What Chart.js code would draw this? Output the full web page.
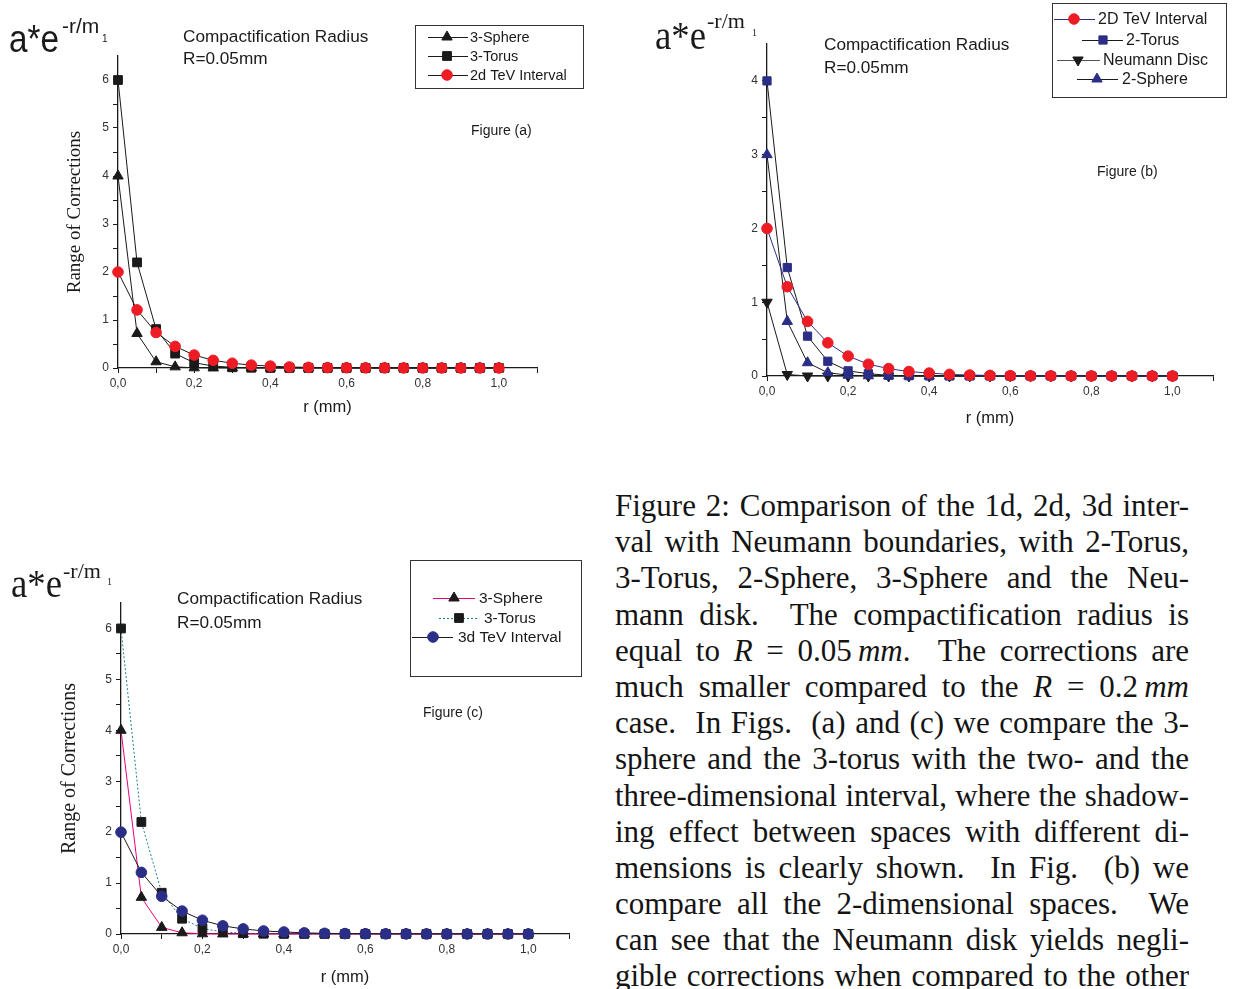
<!DOCTYPE html>
<html>
<head>
<meta charset="utf-8">
<script src="https://cdn.jsdelivr.net/npm/chart.js@4.4.1/dist/chart.umd.min.js"></script>
<style>
  body { margin: 0; background: #fff; width: 1237px; height: 989px; overflow: hidden; position: relative; }
  canvas { position: absolute; }
  #caption { position: absolute; left: 615px; top: 488px; width: 574px; font-family: "Liberation Serif", "Times New Roman", serif; color: #141414; }
  #caption div { font-size: 31px; height: 36.2px; line-height: 36.2px; text-align: justify; text-align-last: justify; overflow: visible; }
</style>
</head>
<body>
<canvas id="figA" width="615" height="440" style="left:0;top:0"></canvas>
<canvas id="figB" width="622" height="440" style="left:615px;top:0"></canvas>
<canvas id="figC" width="615" height="449" style="left:0;top:540px"></canvas>
<div id="caption">
  <div>Figure 2: Comparison of the 1d, 2d, 3d inter-</div>
  <div>val with Neumann boundaries, with 2-Torus,</div>
  <div>3-Torus, 2-Sphere, 3-Sphere and the Neu-</div>
  <div>mann disk. &nbsp;The compactification radius is</div>
  <div>equal to <i>R</i> = 0.05&#8201;<i>mm</i>. &nbsp;The corrections are</div>
  <div>much smaller compared to the <i>R</i> = 0.2&#8201;<i>mm</i></div>
  <div>case. &nbsp;In Figs. &nbsp;(a) and (c) we compare the 3-</div>
  <div>sphere and the 3-torus with the two- and the</div>
  <div>three-dimensional interval, where the shadow-</div>
  <div>ing effect between spaces with different di-</div>
  <div>mensions is clearly shown. &nbsp;In Fig. &nbsp;(b) we</div>
  <div>compare all the 2-dimensional spaces. &nbsp;We</div>
  <div>can see that the Neumann disk yields negli-</div>
  <div>gible corrections when compared to the other</div>
</div>
<script>
// r in mm, one point every 0.05
const radius = [0, 0.05, 0.1, 0.15, 0.2, 0.25, 0.3, 0.35, 0.4, 0.45, 0.5,
  0.55, 0.6, 0.65, 0.7, 0.75, 0.8, 0.85, 0.9, 0.95, 1.0];

const sphere3 = [4, 0.72, 0.13, 0.024, 0.004, 0.001, 0, 0, 0, 0, 0, 0, 0, 0, 0, 0, 0, 0, 0, 0, 0];
const torus3 = [6, 2.2, 0.81, 0.3, 0.11, 0.04, 0.015, 0.005, 0.002, 0.001, 0, 0, 0, 0, 0, 0, 0, 0, 0, 0, 0];
const tevInterval = [2, 1.21, 0.74, 0.45, 0.27, 0.16, 0.1, 0.06, 0.04, 0.022, 0.013, 0.008, 0.005, 0.003, 0.002, 0.001, 0.001, 0, 0, 0, 0];
const torus2 = [4, 1.47, 0.54, 0.2, 0.07, 0.03, 0.01, 0.004, 0.001, 0, 0, 0, 0, 0, 0, 0, 0, 0, 0, 0, 0];
const sphere2 = [3, 0.74, 0.18, 0.045, 0.011, 0.003, 0.001, 0, 0, 0, 0, 0, 0, 0, 0, 0, 0, 0, 0, 0, 0];
const neumannDisc = [1, 0.02, 0, 0, 0, 0, 0, 0, 0, 0, 0, 0, 0, 0, 0, 0, 0, 0, 0, 0, 0];

const BLACK = '#1a1a1a';
const RED = '#ed1c24';
const NAVY = '#2b2e86';
const PINK = '#e6007e';
const TEAL = '#1f7f8f';
const SANS = '"Liberation Sans", Arial, sans-serif';
const SERIF = '"Liberation Serif", "Times New Roman", serif';

function pts(ys) {
  return radius.map((x, i) => ({ x: x, y: ys[i] }));
}

function series(label, ys, line, marker, style, size, extra) {
  return Object.assign({
    label: label,
    data: pts(ys),
    borderColor: line,
    borderWidth: 1,
    pointStyle: style,
    pointRadius: size,
    pointBackgroundColor: marker,
    pointBorderColor: marker,
    pointBorderWidth: 1,
    tension: 0,
    clip: false
  }, extra || {});
}

// texts, legend box and legend rows, all in page coordinates
const overlay = {
  id: 'overlay',
  afterDraw(chart, args, o) {
    const ctx = chart.ctx;
    ctx.save();
    ctx.translate(-o.dx, -o.dy);
    ctx.fillStyle = BLACK;
    ctx.textBaseline = 'alphabetic';
    ctx.textAlign = 'left';
    o.notes.forEach(n => {
      ctx.font = n.font;
      if (n.w) ctx.fillText(n.t, n.x, n.y, n.w); else ctx.fillText(n.t, n.x, n.y);
    });
    const b = o.box;
    ctx.strokeStyle = '#333';
    ctx.lineWidth = 1;
    ctx.strokeRect(b.x + 0.5, b.y + 0.5, b.w, b.h);
    o.items.forEach(it => {
      const ds = chart.data.datasets[it.ds];
      ctx.beginPath();
      ctx.strokeStyle = it.line || ds.borderColor;
      ctx.setLineDash(ds.borderDash || []);
      ctx.lineWidth = 1;
      ctx.moveTo(it.x1, it.y + 0.5);
      ctx.lineTo(it.x2, it.y + 0.5);
      ctx.stroke();
      ctx.setLineDash([]);
      ctx.fillStyle = ds.pointBackgroundColor;
      ctx.strokeStyle = ds.pointBorderColor;
      Chart.helpers.drawPoint(ctx, {
        pointStyle: ds.pointStyle, rotation: ds.pointRotation || 0,
        radius: ds.pointRadius, borderWidth: 1
      }, it.mx, it.y);
      ctx.fillStyle = BLACK;
      ctx.font = o.legendFont;
      ctx.textBaseline = 'middle';
      ctx.fillText(ds.label, it.tx, it.y + 1);
    });
    ctx.restore();
  }
};

function xLabel(v) {
  const k = Math.round(v * 10);
  return (k % 2 === 0 && k <= 10) ? (k / 10).toFixed(1).replace('.', ',') : '';
}

function makeChart(id, cfg) {
  const yTop = cfg.yMax;
  return new Chart(document.getElementById(id), {
    type: 'line',
    data: { datasets: cfg.datasets },
    plugins: [overlay],
    options: {
      responsive: false,
      animation: false,
      devicePixelRatio: 1,
      events: [],
      layout: { padding: { left: 0, top: cfg.top, right: cfg.right, bottom: 0 } },
      plugins: {
        legend: { display: false },
        tooltip: { enabled: false },
        overlay: cfg.overlay
      },
      scales: {
        x: {
          type: 'linear',
          min: 0,
          max: 1.1,
          afterFit: s => { s.height = cfg.xHeight; },
          grid: { drawOnChartArea: false, tickLength: 5, tickColor: BLACK, tickWidth: 1 },
          border: { color: BLACK, width: 1.3 },
          ticks: {
            stepSize: 0.1, autoSkip: false, maxRotation: 0, padding: 3,
            color: '#333', font: { family: SANS, size: 12 },
            callback: xLabel
          },
          title: {
            display: true, text: 'r (mm)', color: BLACK,
            font: { family: SANS, size: 16.5 },
            padding: { top: 0, bottom: cfg.xTitlePad }
          }
        },
        y: {
          min: 0,
          max: yTop,
          afterFit: s => { s.width = cfg.yWidth; },
          grid: {
            drawOnChartArea: false, tickLength: 5, tickWidth: 1,
            tickColor: c => (c.tick && c.tick.value > yTop - 0.01) ? 'rgba(0,0,0,0)' : BLACK
          },
          border: { color: BLACK, width: 1.3 },
          ticks: {
            stepSize: 0.5, autoSkip: false, padding: 4,
            color: '#333', font: { family: SANS, size: 12 },
            callback: v => Number.isInteger(v) ? String(v) : ''
          },
          title: cfg.yTitle
        }
      }
    }
  });
}

// Figure (a)
makeChart('figA', {
  yMax: 6.5, top: 56, right: 78, xHeight: 72, yWidth: 118, xTitlePad: 23,
  yTitle: {
    display: true, text: 'Range of Corrections', color: BLACK,
    font: { family: SERIF, size: 19 }, padding: { top: 64, bottom: 0 }
  },
  datasets: [
    series('3-Sphere', sphere3, BLACK, BLACK, 'triangle', 6, { order: 2 }),
    series('3-Torus', torus3, BLACK, BLACK, 'rect', 6.2, { order: 1 }),
    series('2d TeV Interval', tevInterval, BLACK, RED, 'circle', 5.3, { order: 0 })
  ],
  overlay: {
    dx: 0, dy: 0,
    notes: [
      { t: 'a*e', x: 9, y: 52, font: '39px ' + SANS, w: 50 },
      { t: '-r/m', x: 62, y: 33, font: '21px ' + SANS, w: 40 },
      { t: '1', x: 102, y: 42, font: '10px ' + SANS },
      { t: 'Compactification Radius', x: 183, y: 42, font: '17.2px ' + SANS },
      { t: 'R=0.05mm', x: 183, y: 64, font: '17.2px ' + SANS },
      { t: 'Figure (a)', x: 471, y: 135, font: '14px ' + SANS }
    ],
    box: { x: 415, y: 25, w: 168, h: 63 },
    legendFont: '14.5px ' + SANS,
    items: [
      { ds: 0, y: 37, x1: 428, x2: 468, mx: 447, tx: 470 },
      { ds: 1, y: 56, x1: 428, x2: 468, mx: 447, tx: 470 },
      { ds: 2, y: 75, x1: 428, x2: 468, mx: 447, tx: 470 }
    ]
  }
});

// Figure (b)
makeChart('figB', {
  yMax: 4.5, top: 44, right: 24, xHeight: 64, yWidth: 152, xTitlePad: 12,
  yTitle: { display: false },
  datasets: [
    series('2D TeV Interval', tevInterval, NAVY, RED, 'circle', 5.3, { order: 0 }),
    series('2-Torus', torus2, BLACK, NAVY, 'rect', 5.8, { order: 1 }),
    series('Neumann Disc', neumannDisc, BLACK, BLACK, 'triangle', 6, { order: 3, pointRotation: 180 }),
    series('2-Sphere', sphere2, BLACK, NAVY, 'triangle', 6, { order: 2 })
  ],
  overlay: {
    dx: 615, dy: 0,
    notes: [
      { t: 'a*e', x: 655, y: 49, font: '40px ' + SERIF, w: 51 },
      { t: '-r/m', x: 707, y: 28, font: '22px ' + SERIF, w: 39 },
      { t: '1', x: 752, y: 36, font: '10px ' + SERIF },
      { t: 'Compactification Radius', x: 824, y: 50, font: '17.2px ' + SANS },
      { t: 'R=0.05mm', x: 824, y: 73, font: '17.2px ' + SANS },
      { t: 'Figure (b)', x: 1097, y: 176, font: '14px ' + SANS }
    ],
    box: { x: 1052, y: 3, w: 174, h: 94 },
    legendFont: '16px ' + SANS,
    items: [
      { ds: 0, y: 19, x1: 1054, x2: 1095, mx: 1074, tx: 1098 },
      { ds: 1, y: 40, x1: 1082, x2: 1123, mx: 1103, tx: 1126 },
      { ds: 2, y: 60, x1: 1057, x2: 1100, mx: 1078, tx: 1103, line: '#555' },
      { ds: 3, y: 79, x1: 1077, x2: 1118, mx: 1097, tx: 1122 }
    ]
  }
});

// Figure (c)
makeChart('figC', {
  yMax: 6.5, top: 63, right: 46, xHeight: 55, yWidth: 121, xTitlePad: 2,
  yTitle: {
    display: true, text: 'Range of Corrections', color: BLACK,
    font: { family: SERIF, size: 20 }, padding: { top: 58, bottom: 0 }
  },
  datasets: [
    series('3-Sphere', sphere3, PINK, BLACK, 'triangle', 6, { order: 1 }),
    series('3-Torus', torus3, TEAL, BLACK, 'rect', 6.2, { order: 2, borderDash: [2, 2] }),
    series('3d TeV Interval', tevInterval, BLACK, NAVY, 'circle', 5.3, { order: 0 })
  ],
  overlay: {
    dx: 0, dy: 540,
    notes: [
      { t: 'a*e', x: 11, y: 597, font: '40px ' + SERIF, w: 51 },
      { t: '-r/m', x: 63, y: 578, font: '22px ' + SERIF, w: 38 },
      { t: '1', x: 107, y: 585, font: '10px ' + SERIF },
      { t: 'Compactification Radius', x: 177, y: 604, font: '17.2px ' + SANS },
      { t: 'R=0.05mm', x: 177, y: 628, font: '17.2px ' + SANS },
      { t: 'Figure (c)', x: 423, y: 717, font: '14px ' + SANS }
    ],
    box: { x: 410, y: 560, w: 171, h: 116 },
    legendFont: '15.5px ' + SANS,
    items: [
      { ds: 0, y: 598, x1: 433, x2: 475, mx: 454, tx: 479 },
      { ds: 1, y: 618, x1: 439, x2: 479, mx: 459, tx: 484 },
      { ds: 2, y: 637, x1: 412, x2: 453, mx: 433, tx: 458 }
    ]
  }
});

// keep every caption line on one line
document.querySelectorAll('#caption div').forEach(d => {
  let size = 31;
  while (d.scrollHeight > 40 && size > 20) {
    size -= 0.25;
    d.style.fontSize = size + 'px';
  }
});
</script>
</body>
</html>
